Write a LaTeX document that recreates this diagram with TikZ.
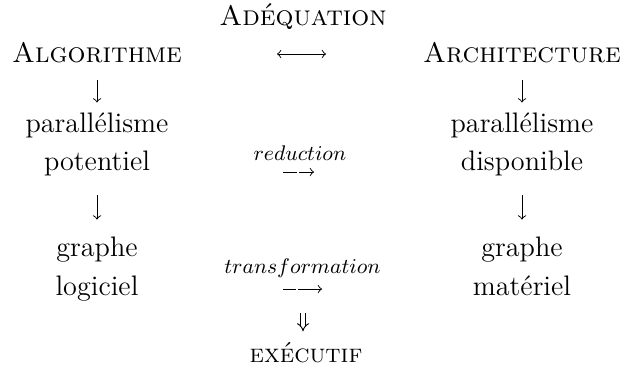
\documentclass[tikz,border=0pt]{standalone}
\usetikzlibrary{arrows.meta,calc}
\begin{document}
\begin{tikzpicture}[x=0.4255pt,y=-0.4255pt,
  txt/.style={inner sep=0pt, anchor=base, font=\fontsize{12}{14.4}\selectfont},
  lbl/.style={inner sep=0pt, anchor=base, font=\fontsize{9}{10.8}\selectfont},
  arr/.style={-to, line width=0.4pt},
  dasharr/.style={-to, line width=0.4pt, dash pattern=on #1 off 0.85pt on 40pt}]
\useasboundingbox (0,0) rectangle (626,375);
% nodes
\node[txt] (ade)  at (303,25)  {\textsc{Adéquation}};
\node[txt] (alg)  at (97,62)   {\textsc{Algorithme}};
\node[txt] (arch) at (522,62)  {\textsc{Architecture}};
\node[txt] (par1) at (97,132)  {parallélisme};
\node[txt] (pot)  at (97,170)  {potentiel};
\node[txt] (par2) at (522,132) {parallélisme};
\node[txt] (dis)  at (522,170) {disponible};
\node[txt] (gr1)  at (97,256)  {graphe};
\node[txt] (logi) at (97,295)  {logiciel};
\node[txt] (gr2)  at (522,256) {graphe};
\node[txt] (mat)  at (522,295) {matériel};
\node[inner sep=0pt, anchor=base, font=\fontsize{11}{13}\selectfont] (exe) at (306,362) {\textsc{exécutif}};
% free ends
\coordinate (adqA) at (277,54);
\coordinate (adqB) at (326,54);
\coordinate (redA) at (283,172);
\coordinate (redB) at (314,172);
\coordinate (trA)  at (283,289);
\coordinate (trB)  at (322,289);
\coordinate (dblA) at (303,313);
% connectors
\draw[arr, {to}-{to}] (adqA) -- (adqB);
\draw[arr, shorten <=7.2pt, shorten >=4pt] (alg.south) -- (alg.south |- par1.north);
\draw[arr, shorten <=8.3pt, shorten >=7pt] (pot.south) -- (pot.south |- gr1.north);
\draw[arr, shorten <=7.2pt, shorten >=4pt] (arch.south) -- (arch.south |- par2.north);
\draw[arr, shorten <=8.3pt, shorten >=7pt] (dis.south) -- (dis.south |- gr2.north);
\draw[dasharr=5.9pt] (redA) -- (redB) node[lbl, midway, xshift=0.6pt, yshift=4.7pt] {$reduction$};
\draw[dasharr=5.5pt] (trA) -- (trB) node[lbl, midway, yshift=6.8pt] {$transformation$};
\draw[-Implies, double, double distance=1.4pt, line width=0.4pt, shorten >=4.3pt] (dblA) -- (dblA |- exe.north);
\end{tikzpicture}
\end{document}
